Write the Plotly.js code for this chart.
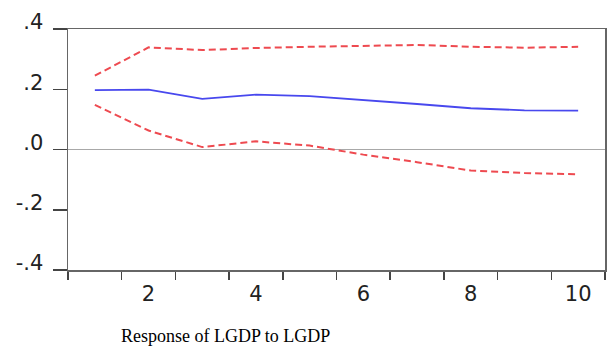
<!DOCTYPE html>
<html>
<head>
<meta charset="utf-8">
<script src="https://cdn.plot.ly/plotly-3.0.1.min.js"></script>
<style>
html,body{margin:0;padding:0;background:#fff;}
#chart{width:607px;height:349px;}
</style>
</head>
<body>
<div id="chart"></div>
<script>
// Periods
var periods = [1, 2, 3, 4, 5, 6, 7, 8, 9, 10];
// Impulse response of LGDP to LGDP
var response = [0.197, 0.199, 0.168, 0.182, 0.177, 0.165, 0.151, 0.137, 0.130, 0.129];
// Upper and lower confidence bands (+/- 2 S.E.)
var upperBand = [0.245, 0.339, 0.330, 0.337, 0.341, 0.345, 0.347, 0.341, 0.338, 0.341];
var lowerBand = [0.148, 0.063, 0.008, 0.027, 0.013, -0.017, -0.042, -0.070, -0.078, -0.082];
// Axis ticks
var xTickMarks = [0.5, 1.5, 2.5, 3.5, 4.5, 5.5, 6.5, 7.5, 8.5, 9.5, 10.5];
var xLabelVals = [2, 4, 6, 8, 10];
var xLabelText = ["2", "4", "6", "8", "10"];
var yTickVals = [-0.4, -0.2, 0, 0.2, 0.4];
var yTickText = ["-.4", "-.2", ".0", ".2", ".4"];
var chartTitle = "Response of LGDP to LGDP";

var red = "#ee4a50";
var blue = "#4848ee";
var tickFont = {family: "DejaVu Sans, Arial, sans-serif", size: 21, color: "#222"};

var traces = [
  {x: periods, y: upperBand, type: "scatter", mode: "lines",
   line: {color: red, width: 2, dash: "7px,4px"}, hoverinfo: "skip"},
  {x: periods, y: lowerBand, type: "scatter", mode: "lines",
   line: {color: red, width: 2, dash: "7px,4px"}, hoverinfo: "skip"},
  {x: periods, y: response, type: "scatter", mode: "lines", xaxis: "x2", yaxis: "y",
   line: {color: blue, width: 1.8}, hoverinfo: "skip"}
];

var layout = {
  width: 607, height: 349,
  margin: {l: 68, r: 2, t: 28.5, b: 79, pad: 0},
  paper_bgcolor: "#fff", plot_bgcolor: "#fff",
  showlegend: false,
  title: {text: chartTitle, x: 121 / 607, xanchor: "left", xref: "container",
          y: 1 - 336 / 349, yanchor: "middle", yref: "container",
          font: {family: "Liberation Serif, Times New Roman, serif", size: 18, color: "#000"}},
  xaxis: {range: [0.5, 10.5], tickmode: "array", tickvals: xTickMarks,
          showticklabels: false, ticks: "outside", ticklen: 8, tickwidth: 1.5, tickcolor: "#444",
          showline: true, linecolor: "#666", linewidth: 1.5, mirror: true,
          showgrid: false, zeroline: false, fixedrange: true},
  xaxis2: {overlaying: "x", side: "bottom", anchor: "y", range: [0.5, 10.5],
           tickmode: "array", tickvals: xLabelVals, ticktext: xLabelText,
           ticks: "", ticklen: 0, showline: false, showgrid: false, zeroline: false,
           tickfont: tickFont, ticklabelstandoff: 9, fixedrange: true},
  yaxis: {range: [-0.4, 0.4], tickmode: "array", tickvals: yTickVals, ticktext: yTickText,
          ticks: "outside", ticklen: 14, tickwidth: 1.5, tickcolor: "#444",
          ticklabelposition: "outside", ticklabelshift: -7, ticklabelstandoff: 5,
          tickfont: tickFont,
          showline: true, linecolor: "#666", linewidth: 1.5, mirror: true,
          showgrid: false, zeroline: true, zerolinecolor: "#a8a8a8", zerolinewidth: 1.5,
          fixedrange: true}
};

Plotly.newPlot("chart", traces, layout, {staticPlot: true, displayModeBar: false});
</script>
</body>
</html>
